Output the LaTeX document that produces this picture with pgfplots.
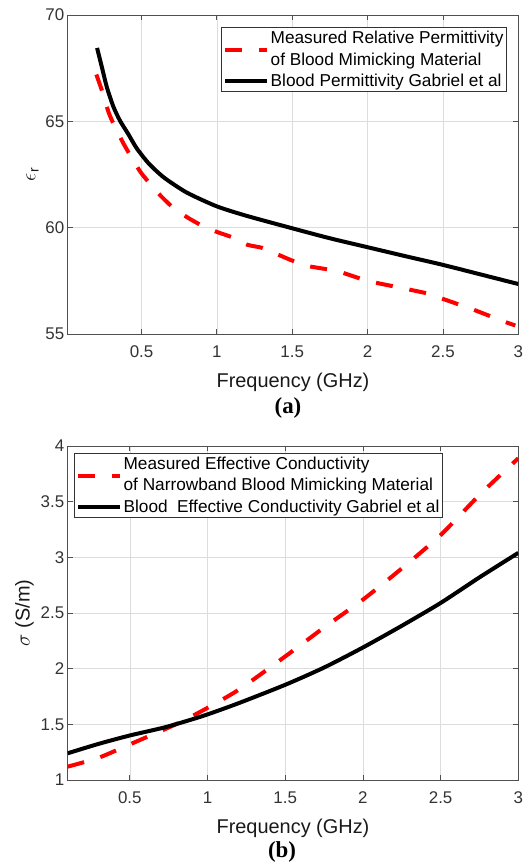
\documentclass[border=0pt]{standalone}
\usepackage{pgfplots}
\pgfplotsset{compat=1.18}
\usepackage{fontspec}
\setmainfont{Liberation Sans}
\newfontfamily\capfont{Liberation Serif}
\definecolor{axgray}{RGB}{80,80,80}
\definecolor{gridgray}{RGB}{220,220,220}

\pgfplotsset{
  blood/.style={
    scale only axis,
    width=450.6bp,
    xmax=3,
    xtick={0.5,1,1.5,2,2.5,3},
    xticklabels={0.5,1,1.5,2,2.5,3},
    grid=major,
    major grid style={gridgray, line width=0.6bp},
    axis line style={axgray, line width=0.8bp},
    tick style={axgray, line width=0.8bp},
    tick align=inside,
    major tick length=5bp,
    every tick label/.append style={font=\fontsize{17}{20}\selectfont, text=black!80},
    xticklabel style={yshift=-8bp},
    /pgf/number format/assume math mode=true,
    label style={font=\fontsize{20}{24}\selectfont, text=black!90},
    xlabel style={yshift=-9bp},
    xlabel={Frequency (GHz)},
    legend cell align=left,
    legend style={draw=black!80, line width=0.8bp, font=\fontsize{17.3}{20}\selectfont,
      inner sep=2bp, nodes={inner sep=1.2bp}, row sep=5.5bp},
    legend image code/.code={\draw[##1] (0bp,0bp) -- (42bp,0bp);},
  },
  meas/.style={red, line width=4bp, dash pattern=on 17bp off 17bp, smooth, tension=0.4,
    legend image code/.code={\draw[##1,overlay] (0bp,-12bp) -- (42bp,-12bp);}},
  gab/.style={black, line width=4bp, smooth, tension=0.4},
}

\begin{document}
\begin{tikzpicture}
\useasboundingbox (0,0) rectangle (529bp,864bp);

% (a) relative permittivity
\begin{axis}[blood,
  at={(67.7bp,530bp)}, anchor=south west,
  height=319bp,
  xmin=0.01,
  ymin=55, ymax=70,
  ytick={55,60,65,70},
  ylabel={$\epsilon_{\mathrm{r}}$},
  legend style={at={(0.975,0.962)}, anchor=north east},
]
\addplot[meas] coordinates {
(0.2,67.2)(0.236,66.47)(0.28,65.45)(0.313,64.9)(0.379,63.97)(0.45,63.1)
(0.5,62.55)(0.6,61.7)(0.7,61.0)(0.8,60.5)(0.9,60.1)(1.0,59.8)(1.1,59.55)(1.2,59.2)
(1.3,59.05)(1.4,58.75)(1.5,58.45)(1.6,58.2)(1.8,57.95)(2.0,57.5)(2.2,57.2)(2.4,56.9)
(2.5,56.65)(2.7,56.15)(2.9,55.6)(2.98,55.4)};
\addlegendentry{Measured Relative Permittivity}
\addlegendimage{empty legend}
\addlegendentry{of Blood Mimicking Material}
\addplot[gab] coordinates {
(0.205,68.45)(0.236,67.57)(0.27,66.6)(0.313,65.69)(0.357,65.03)(0.412,64.4)(0.468,63.73)
(0.55,63.0)(0.65,62.35)(0.8,61.65)(1.0,61.0)(1.2,60.55)(1.5,59.97)
(1.75,59.5)(2.0,59.08)(2.25,58.66)(2.5,58.25)(2.75,57.8)(3.0,57.35)};
\addlegendentry{Blood Permittivity Gabriel et al}
\end{axis}
\node[font=\capfont\bfseries\fontsize{23}{26}\selectfont] at (288bp,456bp) {(a)};

% (b) effective conductivity
\begin{axis}[blood,
  at={(67.7bp,84bp)}, anchor=south west,
  height=334bp,
  xmin=0.1,
  ymin=1, ymax=4,
  ytick={1,1.5,2,2.5,3,3.5,4},
  yticklabels={1,1.5,2,2.5,3,3.5,4},
  ylabel={$\sigma$ (S/m)},
  legend style={at={(0.014,0.979)}, anchor=north west},
]
\addplot[meas] coordinates {
(0.1,1.12)(0.3,1.2)(0.5,1.32)(0.78,1.49)(0.95,1.61)(1.2,1.81)
(1.5,2.11)(1.75,2.37)(2.0,2.62)(2.25,2.9)(2.5,3.2)(2.75,3.56)(3.0,3.89)};
\addlegendentry{Measured Effective Conductivity}
\addlegendimage{empty legend}
\addlegendentry{of Narrowband Blood Mimicking Material}
\addplot[gab] coordinates {
(0.1,1.24)(0.3,1.325)(0.5,1.4)(0.73,1.475)(0.97,1.575)(1.2,1.69)(1.5,1.855)
(1.75,2.01)(2.0,2.19)(2.25,2.385)(2.5,2.59)(2.75,2.82)(3.0,3.04)};
\addlegendentry{Blood\ \ Effective Conductivity Gabriel et al}
\end{axis}
\node[font=\capfont\bfseries\fontsize{23}{26}\selectfont] at (282bp,12.5bp) {(b)};
\end{tikzpicture}
\end{document}
